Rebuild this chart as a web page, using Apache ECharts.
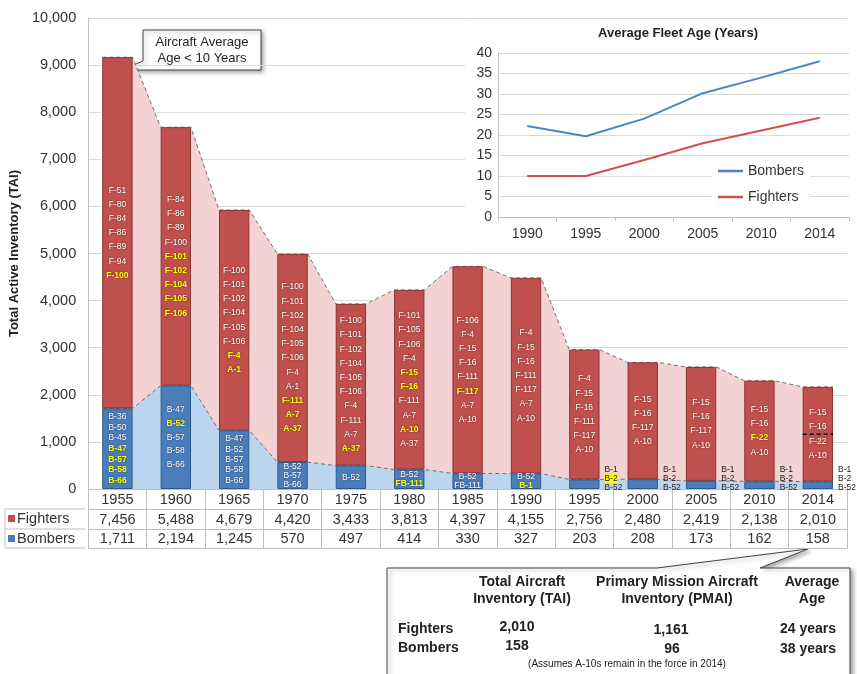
<!DOCTYPE html>
<html><head><meta charset="utf-8">
<script src="https://cdn.jsdelivr.net/npm/echarts@6/dist/echarts.min.js"></script>
<style>html,body{margin:0;padding:0;background:#fff}#c{width:857px;height:674px}</style>
</head><body><div id="c"></div>
<script>
// ---------------- data ----------------
const years = ['1955','1960','1965','1970','1975','1980','1985','1990','1995','2000','2005','2010','2014'];
const fighters = [7456,5488,4679,4420,3433,3813,4397,4155,2756,2480,2419,2138,2010];
const bombers  = [1711,2194,1245,570,497,414,330,327,203,208,173,162,158];
const fighterTypes = [
  ['F-51','F-80','F-84','F-86','F-89','F-94','F-100'],
  ['F-84','F-86','F-89','F-100','F-101','F-102','F-104','F-105','F-106'],
  ['F-100','F-101','F-102','F-104','F-105','F-106','F-4','A-1'],
  ['F-100','F-101','F-102','F-104','F-105','F-106','F-4','A-1','F-111','A-7','A-37'],
  ['F-100','F-101','F-102','F-104','F-105','F-106','F-4','F-111','A-7','A-37'],
  ['F-101','F-105','F-106','F-4','F-15','F-16','F-111','A-7','A-10','A-37'],
  ['F-106','F-4','F-15','F-16','F-111','F-117','A-7','A-10'],
  ['F-4','F-15','F-16','F-111','F-117','A-7','A-10'],
  ['F-4','F-15','F-16','F-111','F-117','A-10'],
  ['F-15','F-16','F-117','A-10'],
  ['F-15','F-16','F-117','A-10'],
  ['F-15','F-16','F-22','A-10'],
  ['F-15','F-16','F-22','A-10']
];
const newFighterTypes = [
  ['F-100'],
  ['F-101','F-102','F-104','F-105','F-106'],
  ['F-4','A-1'],
  ['F-111','A-7','A-37'],
  ['A-37'],
  ['F-15','F-16','A-10'],
  ['F-117'],
  [], [], [], [],
  ['F-22'],
  []
];
const bomberTypes = [
  ['B-36','B-50','B-45','B-47','B-57','B-58','B-66'],
  ['B-47','B-52','B-57','B-58','B-66'],
  ['B-47','B-52','B-57','B-58','B-66'],
  ['B-52','B-57','B-66'],
  ['B-52'],
  ['B-52','FB-111'],
  ['B-52','FB-111'],
  ['B-52','B-1'],
  ['B-1','B-2','B-52'],
  ['B-1','B-2','B-52'],
  ['B-1','B-2','B-52'],
  ['B-1','B-2','B-52'],
  ['B-1','B-2','B-52']
];
const newBomberTypes = [
  ['B-47','B-57','B-58','B-66'],
  ['B-52'],
  [], [], [],
  ['FB-111'],
  [],
  ['B-1'],
  ['B-2'],
  [], [], [], []
];
const ageYears   = ['1990','1995','2000','2005','2010','2014'];
const bomberAge  = [22.2, 19.7, 24.0, 30.2, 34.0, 38.0];
const fighterAge = [10.0, 10.0, 13.9, 18.0, 21.1, 24.2];
const pmaiFighters = 1161;
const pmaiBombers = 96;

// ---------------- layout / style ----------------
const FONT = "'Liberation Sans', Arial, sans-serif";
const N = years.length;
const fmt = v => v.toLocaleString('en-US');
const totals = fighters.map((f, i) => f + bombers[i]);
const HALF = 0.26;                      // half bar width in category units (barWidth 52%)
const edgePts = arr => arr.flatMap((v, i) => [[i - HALF, v], [i + HALF, v]]);
const PLOT_H = 471, YMAX = 10000, PX = PLOT_H / YMAX;

const txtShadow = {textShadowColor: 'rgba(0,0,0,0.55)', textShadowBlur: 2};
const wStyle = lh => Object.assign({color: '#fff', fontSize: 8.5, lineHeight: lh, fontFamily: FONT}, txtShadow);
const yStyle = lh => Object.assign({color: '#ffff00', fontSize: 8.5, fontWeight: 'bold', lineHeight: lh, fontFamily: FONT}, txtShadow);
const tag = (list, hot, a, b) => list.map(n => hot.includes(n) ? `{${b}|${n}}` : `{${a}|${n}}`).join('\n');

const bomberData = bombers.map((v, i) => {
  const names = bomberTypes[i], hot = newBomberTypes[i];
  if (v < 250) {
    return {value: v, label: {
      show: true, position: ['100%', '100%'], align: 'left', verticalAlign: 'bottom', offset: [5, 3],
      formatter: () => tag(names, hot, 'd', 'dy'),
      rich: {
        d: {color: '#222', fontSize: 8.5, lineHeight: 9, fontFamily: FONT},
        dy: {color: '#222', fontSize: 8.5, lineHeight: 9, fontFamily: FONT, backgroundColor: '#ffff00'}
      }
    }};
  }
  const lh = Math.max(9, Math.min(13.7, v * PX / (names.length + 0.6)));
  return {value: v, label: {
    show: true, position: 'inside',
    formatter: () => tag(names, hot, 'w', 'y'),
    rich: {w: wStyle(lh), y: yStyle(lh)}
  }};
});

const option = {
  animation: false,
  textStyle: {fontFamily: FONT},
  title: {
    text: 'Average Fleet Age (Years)', left: 673, top: 22, textAlign: 'center', z: 6,
    textStyle: {fontSize: 13, fontWeight: 'bold', color: '#222', fontFamily: FONT}
  },
  legend: {
    data: ['Bombers', 'Fighters'], orient: 'vertical', left: 712, top: 161, itemGap: 12,
    icon: 'rect', itemWidth: 25, itemHeight: 2.5, backgroundColor: '#fff', padding: [3, 6], z: 5,
    textStyle: {fontSize: 14, color: '#333', fontFamily: FONT}
  },
  grid: [
    {left: 85, right: 10, top: 18, bottom: 185},
    {left: 498, right: 8, top: 53, bottom: 457}
  ],
  xAxis: [
    {type: 'category', gridIndex: 0, data: years, position: 'bottom', boundaryGap: true,
     axisLine: {onZero: false, lineStyle: {color: '#bfbfbf'}},
     axisTick: {show: true, length: 59, interval: 0, lineStyle: {color: '#bfbfbf'}},
     axisLabel: {fontSize: 14.5, color: '#333', margin: 3, interval: 0}},
    {type: 'category', gridIndex: 0, data: fighters.map(fmt), position: 'bottom', offset: 20,
     axisLine: {onZero: false, lineStyle: {color: '#bfbfbf'}}, axisTick: {show: false},
     axisLabel: {fontSize: 14.5, color: '#333', margin: 3, interval: 0}},
    {type: 'category', gridIndex: 0, data: bombers.map(fmt), position: 'bottom', offset: 40,
     axisLine: {onZero: false, lineStyle: {color: '#bfbfbf'}}, axisTick: {show: false},
     axisLabel: {fontSize: 14.5, color: '#333', margin: 2, interval: 0}},
    {type: 'category', gridIndex: 0, data: years, position: 'bottom', offset: 59,
     axisLine: {onZero: false, lineStyle: {color: '#bfbfbf'}}, axisTick: {show: false}, axisLabel: {show: false}},
    {type: 'value', gridIndex: 0, min: -0.5, max: N - 0.5, show: false},
    {type: 'category', gridIndex: 1, data: ageYears, boundaryGap: true, z: 3,
     axisLine: {onZero: false, lineStyle: {color: '#bfbfbf'}},
     axisTick: {show: true, length: 4, lineStyle: {color: '#bfbfbf'}},
     axisLabel: {fontSize: 14, color: '#333', margin: 10}}
  ],
  yAxis: [
    {type: 'value', gridIndex: 0, min: 0, max: YMAX, interval: 1000, z: 0,
     name: 'Total Active Inventory (TAI)', nameLocation: 'middle', nameGap: 62,
     nameTextStyle: {fontSize: 13, fontWeight: 'bold', color: '#222', fontFamily: FONT},
     axisLine: {show: true, onZero: false, lineStyle: {color: '#bfbfbf'}}, axisTick: {show: false},
     axisLabel: {fontSize: 14.5, color: '#333', margin: 12, formatter: v => fmt(v)},
     splitLine: {lineStyle: {color: '#d9d9d9'}}},
    {type: 'value', gridIndex: 1, min: 0, max: 40, interval: 5, z: 3,
     axisLine: {show: true, onZero: false, lineStyle: {color: '#bfbfbf'}}, axisTick: {show: false},
     axisLabel: {fontSize: 14, color: '#333', margin: 6},
     splitLine: {lineStyle: {color: '#d9d9d9'}}}
  ],
  series: [
    {name: 'Bombers', type: 'line', xAxisIndex: 5, yAxisIndex: 1, data: bomberAge, symbol: 'none', z: 4,
     lineStyle: {color: '#4a86c8', width: 2}, itemStyle: {color: '#4a86c8'}},
    {name: 'Fighters', type: 'line', xAxisIndex: 5, yAxisIndex: 1, data: fighterAge, symbol: 'none', z: 4,
     lineStyle: {color: '#d0504d', width: 2}, itemStyle: {color: '#d0504d'}},
    {name: 'Total area', type: 'line', xAxisIndex: 4, yAxisIndex: 0, data: edgePts(totals), symbol: 'none', z: 1,
     lineStyle: {color: '#6f6f6f', width: 1, type: [4, 3]}, areaStyle: {color: '#f2d2d3', opacity: 1}},
    {name: 'Bomber area', type: 'line', xAxisIndex: 4, yAxisIndex: 0, data: edgePts(bombers), symbol: 'none', z: 1,
     lineStyle: {color: '#6f6f6f', width: 1, type: [4, 3]}, areaStyle: {color: '#bcd5ef', opacity: 1}},
    {name: 'Bombers (TAI)', type: 'bar', stack: 'tai', xAxisIndex: 0, yAxisIndex: 0, barWidth: '52%', z: 2,
     itemStyle: {color: '#4a7ebb', borderColor: '#2f5a8c', borderWidth: 1},
     data: bomberData},
    {name: 'Fighters (TAI)', type: 'bar', stack: 'tai', xAxisIndex: 0, yAxisIndex: 0, barWidth: '52%', z: 2,
     itemStyle: {color: '#c0504d', borderColor: '#8a3533', borderWidth: 1},
     label: {show: true, position: 'inside',
       formatter: p => tag(fighterTypes[p.dataIndex], newFighterTypes[p.dataIndex], 'w', 'y'),
       rich: {w: wStyle(14.2), y: yStyle(14.2)}},
     data: fighters},
    {name: 'PMAI', type: 'line', xAxisIndex: 4, yAxisIndex: 0, symbol: 'none', z: 5,
     lineStyle: {color: '#000', width: 1.5, type: [4, 3]},
     data: [[N - 1 - HALF, pmaiFighters], [N - 1 + HALF, pmaiFighters]]}
  ],
  graphic: {elements: [
    // inset background
    {type: 'rect', z: 1, shape: {x: 465, y: 22, width: 392, height: 226}, style: {fill: '#fff'}},
    // table legend cells
    {type: 'group', z: 3, children: [
      {type: 'line', shape: {x1: 5, y1: 509, x2: 85, y2: 509}, style: {stroke: '#bfbfbf'}},
      {type: 'line', shape: {x1: 5, y1: 529, x2: 85, y2: 529}, style: {stroke: '#bfbfbf'}},
      {type: 'line', shape: {x1: 5, y1: 548, x2: 85, y2: 548}, style: {stroke: '#bfbfbf'}},
      {type: 'line', shape: {x1: 5, y1: 509, x2: 5, y2: 548}, style: {stroke: '#bfbfbf'}},
      {type: 'rect', shape: {x: 8, y: 515, width: 7, height: 7}, style: {fill: '#c0504d'}},
      {type: 'text', style: {x: 17, y: 519, text: 'Fighters', font: '14.5px ' + FONT, fill: '#333', verticalAlign: 'middle'}},
      {type: 'rect', shape: {x: 8, y: 535, width: 7, height: 7}, style: {fill: '#4a7ebb'}},
      {type: 'text', style: {x: 17, y: 539, text: 'Bombers', font: '14.5px ' + FONT, fill: '#333', verticalAlign: 'middle'}}
    ]},
    // callout: aircraft age
    {type: 'group', z: 10, children: [
      {type: 'polygon', shape: {points: [[143, 30], [261, 30], [261, 70], [155, 70], [122, 70], [143, 61]]},
       style: {fill: '#fff', stroke: '#444', lineWidth: 1, shadowBlur: 4, shadowOffsetX: 2, shadowOffsetY: 2, shadowColor: 'rgba(0,0,0,0.35)'}},
      {type: 'text', style: {x: 202, y: 50, text: 'Aircraft Average\nAge < 10 Years', font: '13px ' + FONT, lineHeight: 16,
        fill: '#222', align: 'center', verticalAlign: 'middle'}}
    ]},
    // bottom summary box
    {type: 'group', z: 10, children: [
      {type: 'polygon', shape: {points: [[387, 568], [657, 568], [808, 549], [760, 568], [850, 568], [850, 690], [387, 690]]},
       style: {fill: '#fff', stroke: '#444', lineWidth: 1, shadowBlur: 4, shadowOffsetX: 3, shadowOffsetY: 2, shadowColor: 'rgba(0,0,0,0.35)'}},
      {type: 'text', style: {x: 522, y: 591, text: 'Total Aircraft\nInventory (TAI)', font: 'bold 14px ' + FONT, lineHeight: 17, fill: '#222', align: 'center', verticalAlign: 'middle'}},
      {type: 'text', style: {x: 677, y: 591, text: 'Primary Mission Aircraft\nInventory (PMAI)', font: 'bold 14px ' + FONT, lineHeight: 17, fill: '#222', align: 'center', verticalAlign: 'middle'}},
      {type: 'text', style: {x: 812, y: 591, text: 'Average\nAge', font: 'bold 14px ' + FONT, lineHeight: 17, fill: '#222', align: 'center', verticalAlign: 'middle'}},
      {type: 'text', style: {x: 398, y: 629, text: 'Fighters', font: 'bold 14px ' + FONT, fill: '#222', verticalAlign: 'middle'}},
      {type: 'text', style: {x: 517, y: 627, text: fmt(fighters[N - 1]), font: 'bold 14px ' + FONT, fill: '#222', align: 'center', verticalAlign: 'middle'}},
      {type: 'text', style: {x: 671, y: 630, text: fmt(pmaiFighters), font: 'bold 14px ' + FONT, fill: '#222', align: 'center', verticalAlign: 'middle'}},
      {type: 'text', style: {x: 808, y: 629, text: Math.round(fighterAge[fighterAge.length - 1]) + ' years', font: 'bold 14px ' + FONT, fill: '#222', align: 'center', verticalAlign: 'middle'}},
      {type: 'text', style: {x: 398, y: 648, text: 'Bombers', font: 'bold 14px ' + FONT, fill: '#222', verticalAlign: 'middle'}},
      {type: 'text', style: {x: 517, y: 646, text: fmt(bombers[N - 1]), font: 'bold 14px ' + FONT, fill: '#222', align: 'center', verticalAlign: 'middle'}},
      {type: 'text', style: {x: 672, y: 649, text: fmt(pmaiBombers), font: 'bold 14px ' + FONT, fill: '#222', align: 'center', verticalAlign: 'middle'}},
      {type: 'text', style: {x: 808, y: 649, text: Math.round(bomberAge[bomberAge.length - 1]) + ' years', font: 'bold 14px ' + FONT, fill: '#222', align: 'center', verticalAlign: 'middle'}},
      {type: 'text', style: {x: 627, y: 664, text: '(Assumes A-10s remain in the force in ' + years[N - 1] + ')', font: '10px ' + FONT, fill: '#222', align: 'center', verticalAlign: 'middle'}}
    ]}
  ]}
};
const chart = echarts.init(document.getElementById('c'));
chart.setOption(option);
</script>
</body></html>
